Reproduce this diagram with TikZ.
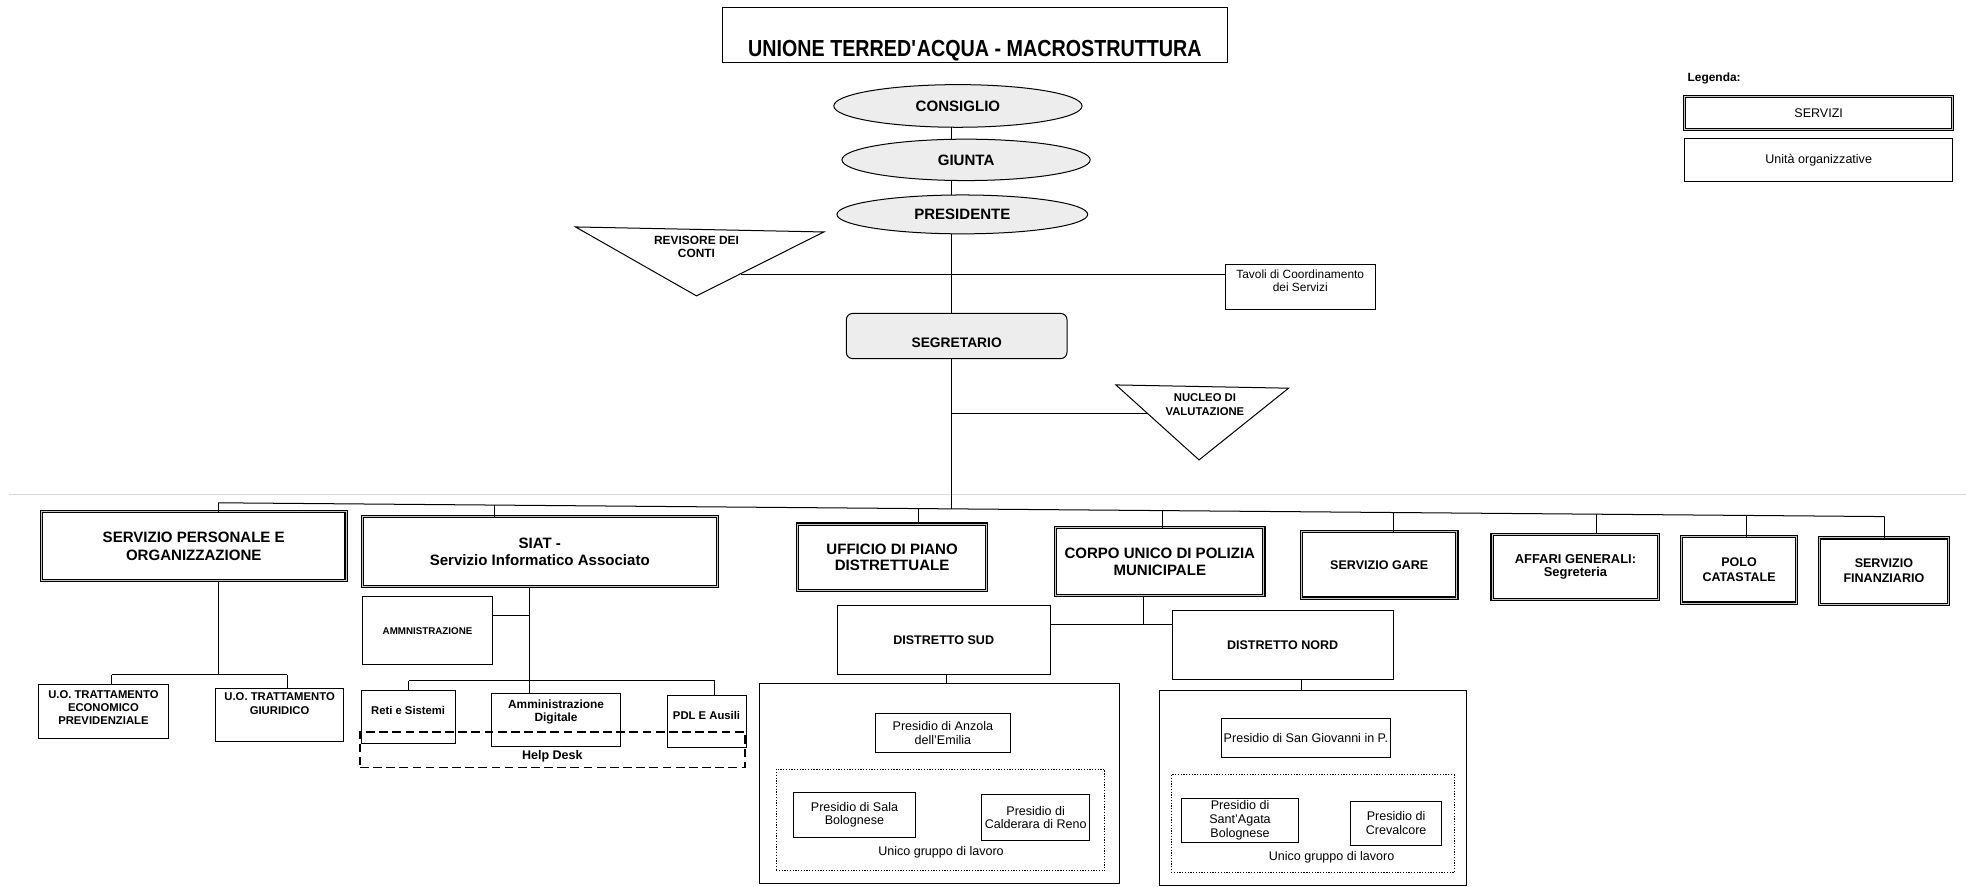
\documentclass[tikz,border=0pt]{standalone}
\usepackage{fontspec}
\setmainfont{Liberation Sans}
\newfontfamily\nar[FakeStretch=0.85]{Liberation Sans}
\usetikzlibrary{shapes.geometric}
\newcommand{\fs}[2]{\fontsize{#1}{#2}\selectfont}
% box from corners, text centred
\newcommand{\bx}[7]{\node[#2, minimum width={(#5-#3)*1pt}, minimum height={(#6-#4)*1pt}] (#1) at ({(#3+#5)/2},{(#4+#6)/2}) {#7};}
% box from corners, single-line text with given text height / depth
\newcommand{\bxb}[9]{\node[#2, minimum width={(#5-#3)*1pt}, text height=#7pt, text depth=#8pt] (#1) at ({(#3+#5)/2},{(#4+#6)/2}) {#9};}
\begin{document}
\begin{tikzpicture}[x=1pt,y=-1pt,
  every node/.style={inner sep=0pt, outer sep=0pt, align=center},
  ln/.style={line width=0.8pt},
  svc/.style={draw, line width=0.9pt, double=gray!45, double distance=0.8pt},
  unit/.style={draw, line width=0.8pt},
  dotbox/.style={draw, line width=0.8pt, dash pattern=on 1pt off 1.2pt},
  dashbox/.style={draw, line width=1.2pt, dash pattern=on 7pt off 3.5pt},
  oval/.style={ellipse, draw, line width=0.8pt, fill=gray!14, font=\bfseries\fs{12}{14}},
  big/.style={font=\bfseries\fs{12}{14}},
  mid/.style={font=\bfseries\fs{10}{11.5}},
  sml/.style={font=\bfseries\fs{9}{10.3}},
  pres/.style={font=\fs{10}{10.7}}
]
\useasboundingbox (0,0) rectangle (1568,707);

% faint fold line of the scan
\draw[gray!30, line width=1.2pt] (7,394.5) -- (1568,394.5);

% ---------- top ----------
\bxb{title}{unit, font=\nar\bfseries\fs{18.5}{20}}{576}{6}{979}{50}{39}{5}{UNIONE TERRED\textquotesingle ACQUA - MACROSTRUTTURA}

\node[oval, minimum width=198pt, minimum height=34pt] (cons) at (764,84.5) {CONSIGLIO};
\node[oval, minimum width=198pt, minimum height=33pt] (giu) at (770.5,127.5) {GIUNTA};
\node[oval, minimum width=200pt, minimum height=31pt] (pres) at (767.5,171) {PRESIDENTE};

\bxb{seg}{unit, rounded corners=5pt, fill=gray!14, font=\bfseries\fs{11}{13}}{675}{250}{851}{286}{27}{9}{SEGRETARIO}

% Revisore dei conti
\coordinate (rv1) at (459,181);
\coordinate (rv2) at (657,185);
\coordinate (rv3) at (555.5,236);
\draw[ln] (rv1) -- (rv2) -- (rv3) -- cycle;
\node[font=\bfseries\fs{9.5}{10.6}] (revt) at (555.5,196.7) {REVISORE DEI\\CONTI};

% Nucleo di valutazione
\coordinate (nv1) at (890,307);
\coordinate (nv2) at (1027.7,309.6);
\coordinate (nv3) at (956.3,366.8);
\draw[ln] (nv1) -- (nv2) -- (nv3) -- cycle;
\node[font=\bfseries\fs{9}{11}] (nuct) at (961,322.5) {NUCLEO DI\\VALUTAZIONE};

% Tavoli
\bx{tav}{unit}{977}{211}{1097}{247}{}
\node[font=\fs{9.5}{10}] (tavt) at (1037,224) {Tavoli di Coordinamento\\dei Servizi};

% Legend
\node[anchor=west, font=\bfseries\fs{9.5}{11}] (leg) at (1346,62.5) {Legenda:};
\bx{legs}{svc, font=\fs{10}{11}}{1343.5}{77}{1557.5}{103}{SERVIZI}
\bx{legu}{unit, font=\fs{10}{11}}{1343.5}{110.5}{1557.5}{144.6}{Unità organizzative}

% spine
\coordinate (sx) at (759,0);
\draw[ln] (sx |- cons.south) -- (sx |- giu.north);
\draw[ln] (sx |- giu.south) -- (sx |- pres.north);
\draw[ln] (sx |- pres.south) -- (sx |- seg.north);
\coordinate (revR) at (591,219);
\draw[ln] (revR) -- (revR -| tav.west);
\coordinate (nucL) at (915,329.5);
\draw[ln] (sx |- nucL) -- (nucL);
\coordinate (bm) at (759,405.8);
\draw[ln] (sx |- seg.south) -- (bm);

% ---------- services ----------
\bx{sp}{svc, big}{33}{408}{276}{463}{SERVIZIO PERSONALE E\\ORGANIZZAZIONE}
\bx{siat}{svc, big}{289}{412}{572}{468}{SIAT -\\Servizio Informatico Associato}
\bx{upd}{svc, font=\bfseries\fs{12}{13.5}}{636}{418}{787}{471}{UFFICIO DI PIANO\\DISTRETTUALE}
\bx{corpo}{svc, font=\bfseries\fs{12}{13.5}}{842}{421}{1008}{475}{CORPO UNICO DI POLIZIA\\MUNICIPALE}
\bx{gare}{svc, mid}{1038}{424}{1162}{477}{SERVIZIO GARE}
\bx{aff}{svc, font=\bfseries\fs{10.3}{10.5}}{1190}{426}{1323}{478}{AFFARI GENERALI:\\Segreteria}
\bx{polo}{svc, mid}{1341}{428}{1433}{481}{POLO\\CATASTALE}
\bx{fin}{svc, font=\bfseries\fs{10}{12}}{1451}{429}{1554}{482}{SERVIZIO\\FINANZIARIO}

% bus
\coordinate (d1) at (174,401);
\coordinate (d2) at (394,402.8);
\coordinate (d3) at (732.6,405.6);
\coordinate (d4) at (927,407.2);
\coordinate (d5) at (1111,408.8);
\coordinate (d6) at (1273,410.1);
\coordinate (d7) at (1393,411.1);
\coordinate (d8) at (1503,412);
\draw[ln] (d1) -- (d8);
\draw[ln] (d1) -- (d1 |- sp.north);
\draw[ln] (d2) -- (d2 |- siat.north);
\draw[ln] (d3) -- (d3 |- upd.north);
\draw[ln] (d4) -- (d4 |- corpo.north);
\draw[ln] (d5) -- (d5 |- gare.north);
\draw[ln] (d6) -- (d6 |- aff.north);
\draw[ln] (d7) -- (d7 |- polo.north);
\draw[ln] (d8) -- (d8 |- fin.north);

% ---------- Servizio personale subtree ----------
\bx{uo1}{unit}{31}{546}{134}{589}{}
\node[sml] (uo1t) at (82.5,564) {U.O. TRATTAMENTO\\ECONOMICO\\PREVIDENZIALE};
\bx{uo2}{unit}{172}{549}{274}{591}{}
\node[font=\bfseries\fs{9}{11.4}] (uo2t) at (223,561) {U.O. TRATTAMENTO\\GIURIDICO};
\coordinate (pv) at (174,538);
\coordinate (p1) at (89,538);
\coordinate (p2) at (229,538);
\draw[ln] (pv |- sp.south) -- (pv);
\draw[ln] (p1) -- (p2);
\draw[ln] (p1) -- (p1 |- uo1.north);
\draw[ln] (p2) -- (p2 |- uo2.north);

% ---------- SIAT subtree ----------
\bx{amm}{unit, font=\bfseries\fs{7.8}{9}}{289}{476}{393}{530}{AMMNISTRAZIONE}
\bxb{reti}{unit, sml}{288}{551}{363}{593}{18.5}{23.5}{Reti e Sistemi}
\bx{ammd}{unit}{392}{553}{495}{595}{}
\node[font=\bfseries\fs{9.5}{10}] (ammdt) at (443.5,568) {Amministrazione\\Digitale};
\bxb{pdl}{unit, sml}{532}{555}{595}{596}{18.5}{22.5}{PDL E Ausili}
\bxb{hd}{dashbox, font=\bfseries\fs{10}{11}}{287}{584}{594}{612}{21.5}{6.5}{Help Desk}
\coordinate (sv) at (422.5,543);
\coordinate (sa) at (422.5,491);
\coordinate (c1) at (326,543);
\coordinate (c3) at (570,543);
\draw[ln] (sv |- siat.south) -- (sv);
\draw[ln] (sa -| amm.east) -- (sa);
\draw[ln] (c1) -- (c3);
\draw[ln] (c1) -- (c1 |- reti.north);
\draw[ln] (sv) -- (sv |- ammd.north);
\draw[ln] (c3) -- (c3 |- pdl.north);

% ---------- Polizia municipale subtree ----------
\bx{sud}{unit, mid}{667.6}{483}{837.7}{538}{DISTRETTO SUD}
\bx{nord}{unit, mid}{935}{487}{1111}{542}{DISTRETTO NORD}
\coordinate (cj) at (912,498);
\draw[ln] (cj |- corpo.south) -- (cj);
\draw[ln] (cj -| sud.east) -- (cj -| nord.west);

\bx{sudb}{unit}{606}{545}{892.6}{705}{}
\bx{anz}{unit, pres}{698}{569}{806}{600}{Presidio di Anzola\\dell'Emilia}
\bx{sudd}{dotbox}{619}{613.5}{881}{694.5}{}
\bx{sala}{unit, pres}{633}{632}{730}{668}{Presidio di Sala\\Bolognese}
\bx{cald}{unit, pres}{783}{634}{869}{670}{Presidio di\\Calderara di Reno}
\node[pres] (unis) at (750.5,680) {Unico gruppo di lavoro};
\coordinate (sdv) at (755,0);
\draw[ln] (sdv |- sud.south) -- (sdv |- sudb.north);

\bx{nordb}{unit}{925}{551}{1170}{706}{}
\bx{sgio}{unit, pres}{974}{573}{1109}{604}{Presidio di San Giovanni in P.}
\bx{nordd}{dotbox}{934}{618}{1160}{696}{}
\bx{sant}{unit, font=\fs{10}{11.2}}{942}{637}{1036}{672}{Presidio di\\Sant'Agata\\Bolognese}
\bx{crev}{unit, pres}{1077}{639}{1150}{674}{Presidio di\\Crevalcore}
\node[pres] (unin) at (1062,684) {Unico gruppo di lavoro};
\coordinate (ndv) at (1038,0);
\draw[ln] (ndv |- nord.south) -- (ndv |- nordb.north);
\end{tikzpicture}
\end{document}
